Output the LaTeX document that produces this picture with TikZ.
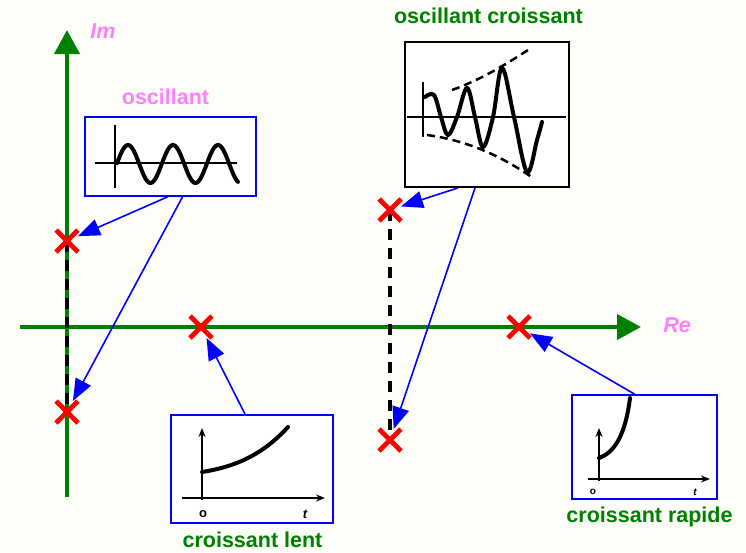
\documentclass[tikz,border=0pt]{standalone}
\usepackage{fontspec}
\setmainfont{Liberation Sans}
\usetikzlibrary{arrows.meta, shapes.misc, calc, backgrounds}
\definecolor{axgreen}{RGB}{0,128,0}
\definecolor{lblpink}{RGB}{255,128,255}
\definecolor{bgcream}{RGB}{254,254,248}
\tikzset{
  axisline/.style={draw=axgreen, line width=4pt, -{Triangle[length=24pt, width=25pt]}},
  pole/.style={cross out, draw=red, line width=4.8pt, minimum size=22pt, inner sep=0pt, outer sep=0pt},
  pairline/.style={draw=black, line width=3.5pt, dash pattern=on 11pt off 8pt},
  plotbox/.style={rectangle, draw=blue, fill=white, line width=1.8pt, inner sep=0pt},
  link/.style={draw=blue, line width=1.6pt, -{Triangle[length=22pt, width=17pt]}},
  greenlbl/.style={anchor=base, text=axgreen, font=\bfseries\fontsize{21.5}{25}\selectfont, inner sep=0pt},
  pinklbl/.style={anchor=base, text=lblpink, font=\bfseries\fontsize{21.5}{25}\selectfont, inner sep=0pt},
  ticklbl/.style={anchor=base, font=\bfseries\fontsize{13}{15}\selectfont, inner sep=0pt},
  sketch/.style={draw=black, line width=2.5pt},
  trace/.style={draw=black, line width=4pt, line cap=round},
  envdash/.style={draw=black, line width=2.5pt, dash pattern=on 8pt off 5pt},
  minitip/.style={-{Stealth[length=9pt, width=7pt]}}
}
\begin{document}
\begin{tikzpicture}[x=1pt, y=-1pt]
  \useasboundingbox (0,0) rectangle (746,552);

  % poles
  \node [pole] (polA) at (67,241) {};
  \node [pole] (polAbar) at (67,412) {};
  \node [pole] (polB) at (201,327) {};
  \node [pole] (polC) at (390,210) {};
  \node [pole] (polCbar) at (390,440) {};
  \node [pole] (polD) at (519,327) {};

  \begin{scope}[on background layer]
    \fill [bgcream] (0,0) rectangle (746,552);
    \coordinate (imfoot) at (67,497);
    \coordinate (imtop) at (67,30);
    \coordinate (refoot) at (20,327);
    \coordinate (retop) at (641,327);
    \draw [axisline] (imfoot) -- (imtop);
    \draw [axisline] (refoot) -- (retop);
    \draw [pairline] (polA.center) -- (polAbar.center);
    \draw [pairline] (polC.center) -- (polCbar.center);
  \end{scope}

  % boxes
  \node [plotbox, minimum width=171pt, minimum height=79pt] (osc) at (170.5,156.5) {};
  \node [plotbox, draw=black, minimum width=164pt, minimum height=145pt] (osccr) at (487,114.5) {};
  \node [plotbox, minimum width=162pt, minimum height=108pt] (lent) at (252,469) {};
  \node [plotbox, minimum width=145pt, minimum height=104pt] (rapide) at (644.5,447) {};

  % oscillant
  \draw [sketch] (95,163) -- (237,163);
  \draw [sketch] (115,125) -- (115,188);
  \draw [trace, domain=117:238, samples=90] plot (\x, {164-19*sin(8*(\x-116.75))});

  % oscillant croissant
  \draw [sketch] (407,117) -- (566,117);
  \draw [sketch] (423,82) -- (423,137);
  \draw [trace] plot [smooth, tension=0.6] coordinates {(425,97) (434,95) (441,117) (448,135) (457,117) (467,88) (475,117) (483,147) (493,117) (502,68) (514,117) (527,172) (537,140) (542,122)};
  \draw [envdash] (452,90) .. controls (480,80) and (505,65) .. (528,50);
  \draw [envdash] (427,135) .. controls (465,140) and (500,155) .. (533,178);

  % croissant lent
  \draw [sketch, minitip] (202,500) -- (202,428);
  \draw [sketch, minitip] (182,498) -- (325,498);
  \draw [trace] (202,472) .. controls (240,466) and (265,452) .. (288,427);
  \node [ticklbl] (lento) at (203,517) {o};
  \node [ticklbl] (lentt) at (305,518) {\itshape t};

  % croissant rapide
  \draw [sketch, minitip] (599,481) -- (599,428);
  \draw [sketch, minitip] (588,479) -- (710,479);
  \draw [trace] (599,458) .. controls (613,453) and (625,438) .. (630,398);
  \node [ticklbl, font=\bfseries\fontsize{10}{12}\selectfont] (rapideo) at (593,494) {o};
  \node [ticklbl, font=\bfseries\fontsize{10}{12}\selectfont] (rapidet) at (695,495) {\itshape t};

  % arrows to poles
  \draw [link] ($(osc.south)+(-3,0)$) -- (polA);
  \draw [link] ($(osc.south)+(12,0)$) -- (polAbar);
  \draw [link] ($(lent.north)+(-7,0)$) -- (polB);
  \draw [link] ($(osccr.south)+(-29,0)$) -- (polC);
  \draw [link] ($(osccr.south)+(-12,0)$) -- (polCbar);
  \draw [link] ($(rapide.north)+(-10,0)$) -- (polD);

  % labels
  \node [pinklbl] (imlbl) at (103,38) {\itshape Im};
  \node [pinklbl] (relbl) at (677,332) {\itshape Re};
  \node [pinklbl] (osclbl) at (165.5,104) {oscillant};
  \node [greenlbl] (osccrlbl) at (488.5,23) {oscillant croissant};
  \node [greenlbl] (lentlbl) at (252.5,547) {croissant lent};
  \node [greenlbl] (rapidelbl) at (649.5,522) {croissant rapide};
\end{tikzpicture}
\end{document}
